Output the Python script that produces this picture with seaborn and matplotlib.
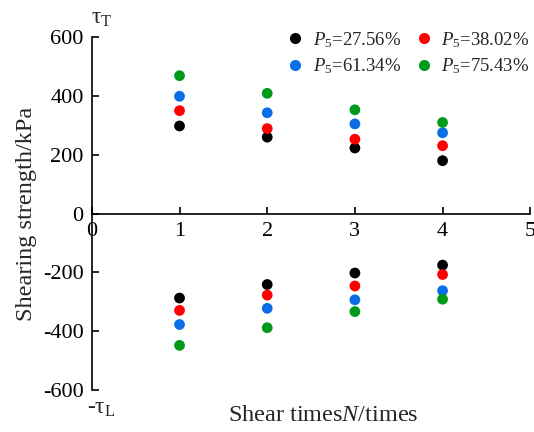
import matplotlib
matplotlib.use("Agg")
import matplotlib.pyplot as plt
import seaborn as sns
import pandas as pd
from matplotlib.lines import Line2D

# Shear count
shear_n = [1, 2, 3, 4]

# Peak shear strength (kPa), positive direction (tau_T) and reverse direction (-tau_L)
groups = ["P5=27.56%", "P5=38.02%", "P5=61.34%", "P5=75.43%"]
tau_t_2756 = [298, 260, 223, 180]
tau_t_3802 = [350, 289, 253, 231]
tau_t_6134 = [399, 343, 305, 275]
tau_t_7543 = [469, 409, 353, 310]
tau_l_2756 = [-287, -241, -202, -175]
tau_l_3802 = [-329, -277, -246, -207]
tau_l_6134 = [-377, -322, -293, -262]
tau_l_7543 = [-448, -388, -333, -291]

legend_labels = [r"$P_5$=27.56%", r"$P_5$=38.02%", r"$P_5$=61.34%", r"$P_5$=75.43%"]
colors = ["#000000", "#ff0000", "#0a6fe6", "#009a1a"]

series = {
    groups[0]: (tau_t_2756, tau_l_2756),
    groups[1]: (tau_t_3802, tau_l_3802),
    groups[2]: (tau_t_6134, tau_l_6134),
    groups[3]: (tau_t_7543, tau_l_7543),
}
rows = []
for g, (pos, neg) in series.items():
    for n, v in zip(shear_n, pos):
        rows.append({"N": n, "tau": v, "group": g})
    for n, v in zip(shear_n, neg):
        rows.append({"N": n, "tau": v, "group": g})
df = pd.DataFrame(rows)

sns.set_style("ticks")
plt.rcParams["font.family"] = ["Liberation Serif", "DejaVu Serif"]
plt.rcParams["mathtext.fontset"] = "custom"
plt.rcParams["mathtext.rm"] = "Liberation Serif"
plt.rcParams["mathtext.it"] = "Liberation Serif:italic"

fig = plt.figure(figsize=(5.34, 4.32), dpi=100)
ax = fig.add_axes([0.172, 0.097, 0.821, 0.817])

sns.scatterplot(data=df, x="N", y="tau", hue="group", hue_order=groups,
                palette=colors, s=60, linewidth=0, legend=False, ax=ax,
                clip_on=False, zorder=3)

ax.set_xlim(0, 5)
ax.set_ylim(-600, 600)
ax.set_xticks([0, 1, 2, 3, 4, 5])
ax.set_yticks([-600, -400, -200, 0, 200, 400, 600])
ax.set_yticklabels(["-600", "-400", "-200", "0", "200", "400", "600"])

ax.spines["top"].set_visible(False)
ax.spines["right"].set_visible(False)
ax.spines["bottom"].set_position(("data", 0))
for sp in ("left", "bottom"):
    ax.spines[sp].set_linewidth(1.2)
    ax.spines[sp].set_color("black")

ax.tick_params(axis="x", direction="in", length=5, width=1.2, pad=6,
               labelsize=16, colors="black")
ax.tick_params(axis="y", direction="in", length=5, width=1.2, pad=6,
               labelsize=16, colors="black")

ax.set_ylabel("Shearing strength/kPa", fontsize=17.5, labelpad=4)
ax.set_xlabel(r"Shear times$N$/times", fontsize=17.5)
ax.xaxis.set_label_coords(0.527, -0.043)

fig.text(0.170, 0.933, r"$\mathrm{τ}_\mathrm{T}$", fontsize=17, ha="left", va="bottom")
fig.text(0.163, 0.030, r"-$\mathrm{τ}_\mathrm{L}$", fontsize=17, ha="left", va="bottom")

handles = [Line2D([], [], marker="o", linestyle="none", markersize=8,
                  markerfacecolor=c, markeredgewidth=0) for c in colors]
order = [0, 2, 1, 3]
ax.legend([handles[i] for i in order], [legend_labels[i] for i in order],
          ncol=2, frameon=False, fontsize=13.5, loc="upper right",
          bbox_to_anchor=(1.006, 0.948), bbox_transform=fig.transFigure,
          handletextpad=0.45, columnspacing=0.7, labelspacing=0.35,
          handlelength=1.0, borderaxespad=0.0)

fig.savefig("out.png", dpi=100)
